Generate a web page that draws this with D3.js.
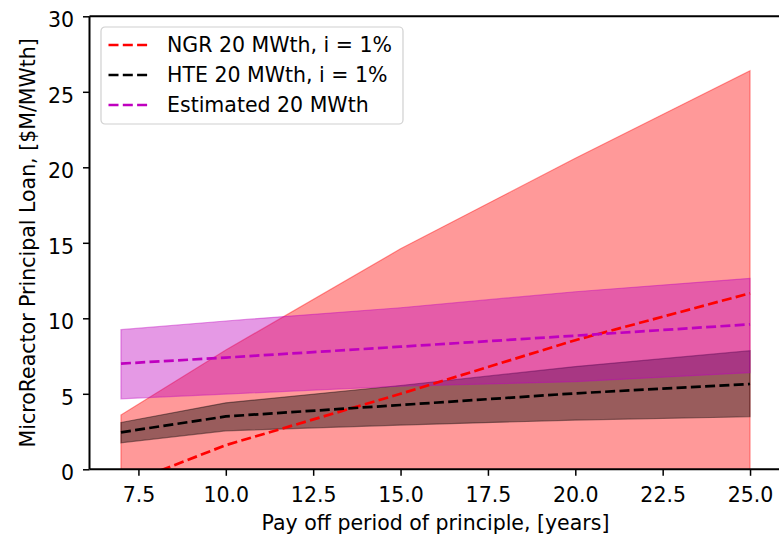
<!DOCTYPE html>
<html>
<head>
<meta charset="utf-8">
<script src="https://cdn.jsdelivr.net/npm/d3@7"></script>
<style>
  body { margin: 0; background: #fff; }
  svg text { font-family: "DejaVu Sans", sans-serif; fill: #000; }
</style>
</head>
<body>
<div id="chart"></div>
<script>
// pay off period, years
var years = [7, 10, 15, 20, 25];

// NGR 20 MWth, i = 1%
var ngrLow  = [-5.8, -4.7, -4.6, -3.5, -3.1];
var ngrMid  = [-1.1, 1.6, 5.0, 8.55, 11.66];
var ngrHigh = [3.6, 7.9, 14.6, 20.6, 26.4];

// HTE 20 MWth, i = 1%
var hteLow  = [1.76, 2.55, 2.93, 3.26, 3.48];
var hteMid  = [2.45, 3.5, 4.26, 5.03, 5.65];
var hteHigh = [3.1, 4.4, 5.55, 6.8, 7.85];

// Estimated 20 MWth
var estLow  = [4.67, 4.98, 5.5, 5.8, 6.4];
var estMid  = [7.0, 7.4, 8.12, 8.85, 9.6];
var estHigh = [9.25, 9.82, 10.7, 11.76, 12.65];

var xTicks = [7.5, 10, 12.5, 15, 17.5, 20, 22.5, 25];
var yTicks = [0, 5, 10, 15, 20, 25, 30];
var legendNames = ["NGR 20 MWth, i = 1%", "HTE 20 MWth, i = 1%", "Estimated 20 MWth"];

var W = 779, H = 535;
var plotL = 89.5, plotR = 781.5, plotT = 16.3, plotB = 469.3;

var svg = d3.select("#chart").append("svg")
    .attr("width", W)
    .attr("height", H);

var x = d3.scaleLinear().domain([6.1, 25.9]).range([plotL, plotR]);
var y = d3.scaleLinear().domain([0, 30]).range([plotB, plotT]);

svg.append("clipPath").attr("id", "plotclip")
  .append("rect")
    .attr("x", plotL).attr("y", plotT)
    .attr("width", plotR - plotL).attr("height", plotB - plotT);

var series = [
  {name: legendNames[0], color: "#ff0000", low: ngrLow, mid: ngrMid, high: ngrHigh},
  {name: legendNames[1], color: "#000000", low: hteLow, mid: hteMid, high: hteHigh},
  {name: legendNames[2], color: "#bf00bf", low: estLow, mid: estMid, high: estHigh}
];

var plot = svg.append("g").attr("clip-path", "url(#plotclip)");

var area = d3.area()
    .x(function(d) { return x(d.yr); })
    .y0(function(d) { return y(d.lo); })
    .y1(function(d) { return y(d.hi); });

var line = d3.line()
    .x(function(d) { return x(d.yr); })
    .y(function(d) { return y(d.v); });

// shaded bands first
series.forEach(function(s) {
  var pts = years.map(function(yr, i) { return {yr: yr, lo: s.low[i], hi: s.high[i]}; });
  plot.append("path")
      .attr("d", area(pts))
      .attr("fill", s.color)
      .attr("fill-opacity", 0.4)
      .attr("stroke", s.color)
      .attr("stroke-opacity", 0.4)
      .attr("stroke-width", 1.2);
});

// dashed centre lines on top
series.forEach(function(s) {
  var pts = years.map(function(yr, i) { return {yr: yr, v: s.mid[i]}; });
  plot.append("path")
      .attr("d", line(pts))
      .attr("fill", "none")
      .attr("stroke", s.color)
      .attr("stroke-width", 2.7)
      .attr("stroke-dasharray", "10,4.3");
});

// axes
var xAxis = d3.axisBottom(x).tickValues(xTicks).tickFormat(d3.format(".1f")).tickSize(6.5).tickPadding(11.5);
var yAxis = d3.axisLeft(y).tickValues(yTicks).tickSize(6.5).tickPadding(9);

var gx = svg.append("g").attr("transform", "translate(0," + plotB + ")").call(xAxis);
var gy = svg.append("g").attr("transform", "translate(" + plotL + ",0)").call(yAxis);

[gx, gy].forEach(function(g) {
  g.select(".domain").remove();
  g.selectAll(".tick line").attr("stroke", "#000").attr("stroke-width", 1.5);
  g.selectAll(".tick text").style("font-size", "20.5px").attr("fill", "#000");
});
gy.selectAll(".tick text").attr("dy", "0.5em");

// spines
svg.append("line").attr("x1", plotL).attr("x2", plotL).attr("y1", plotT).attr("y2", plotB)
   .attr("stroke", "#000").attr("stroke-width", 2);
svg.append("line").attr("x1", plotL).attr("x2", W).attr("y1", plotB).attr("y2", plotB)
   .attr("stroke", "#000").attr("stroke-width", 2);
svg.append("line").attr("x1", plotL).attr("x2", W).attr("y1", plotT).attr("y2", plotT)
   .attr("stroke", "#000").attr("stroke-width", 2);

// axis labels
svg.append("text")
    .attr("text-anchor", "middle")
    .attr("transform", "translate(" + ((plotL + plotR) / 2) + ",529.5)")
    .style("font-size", "20.5px")
    .text("Pay off period of principle, [years]");

svg.append("text")
    .attr("text-anchor", "middle")
    .attr("transform", "translate(35," + ((plotT + plotB) / 2) + ")rotate(-90)")
    .style("font-size", "20.5px")
    .text("MicroReactor Principal Loan, [$M/MWth]");

// legend
var legend = svg.append("g").attr("transform", "translate(101,27)");
legend.append("rect")
    .attr("width", 302).attr("height", 97)
    .attr("rx", 4).attr("ry", 4)
    .attr("fill", "#fff").attr("fill-opacity", 0.8)
    .attr("stroke", "#d0d0d0").attr("stroke-width", 1.2);

var items = legend.selectAll(".item")
    .data(series)
    .enter().append("g")
      .attr("class", "item")
      .attr("transform", function(d, i) { return "translate(0," + (18 + i * 30) + ")"; });

items.append("line")
    .attr("x1", 7.5).attr("x2", 47.5)
    .attr("stroke", function(d) { return d.color; })
    .attr("stroke-width", 2.7)
    .attr("stroke-dasharray", "10,4.3");

items.append("text")
    .attr("x", 66)
    .attr("dy", "0.36em")
    .style("font-size", "20.5px")
    .text(function(d) { return d.name; });
</script>
</body>
</html>
